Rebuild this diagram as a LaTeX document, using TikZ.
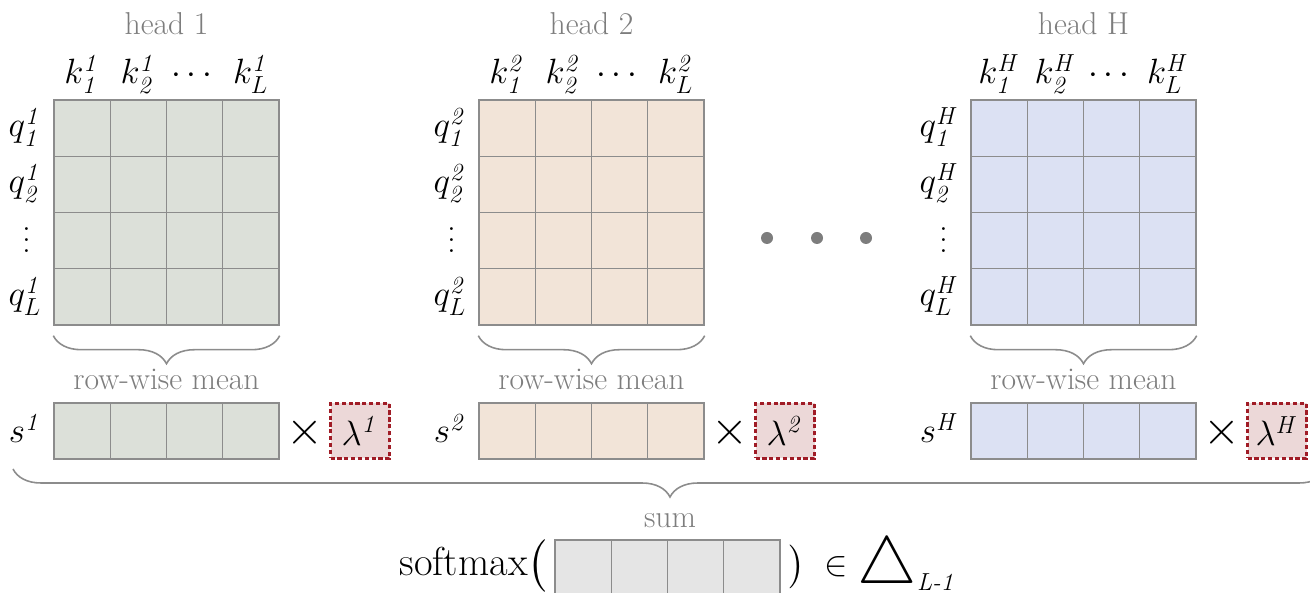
\RequirePackage{fix-cm}
\documentclass[tikz,border=0pt]{standalone}
\usepackage{amsmath}
\usepackage{graphicx}
\usepackage{tikz}
\usetikzlibrary{positioning}
\usetikzlibrary{calc}
\usetikzlibrary{decorations.pathreplacing}
\definecolor{hgreen}{RGB}{220,224,217}
\definecolor{hbeige}{RGB}{242,228,216}
\definecolor{hblue}{RGB}{220,225,243}
\definecolor{lpink}{RGB}{236,216,216}
\definecolor{lred}{RGB}{160,28,38}
\definecolor{sgray}{RGB}{229,229,229}
\definecolor{lgray}{RGB}{125,125,125}
\newcommand{\vdts}{\vbox{\baselineskip 6.5pt \lineskiplimit 0pt \hbox{.}\hbox{.}\hbox{.}}}
\newcommand{\simplex}{\mathord{\raisebox{-4.5pt}[\height][\depth]{\fontsize{38}{38}\selectfont$\bigtriangleup$}}}
\tikzset{
cl/.style={
  rectangle,
  inner sep=0pt,
  minimum size=11.25mm,
  draw=black!45,
  line width=0.8pt
  },
lam/.style={
  rectangle,
  inner sep=0pt,
  minimum width=11.8mm,
  minimum height=11mm,
  draw=lred,
  dash pattern=on 2.4pt off 1.5pt,
  line width=1.5pt,
  fill=lpink,
  font=\fontsize{20}{24}\selectfont
  },
dot/.style={
  circle,
  inner sep=0pt,
  minimum size=2.4mm,
  fill=lgray
  },
mt/.style={font=\fontsize{20}{24}\selectfont, inner sep=0pt},
gt/.style={font=\fontsize{18}{22}\selectfont, text=lgray, inner sep=0pt},
br/.style={decorate, decoration={brace, mirror, amplitude=5.6mm}, draw=black!45, line width=0.9pt}
}

\begin{document}
\begin{tikzpicture}[x=0.2mm,y=-0.2mm]
\useasboundingbox (0,0) rectangle (1310,593);
\clip (0,0) rectangle (1310,593);
\foreach \h/\xo/\col in {1/54/hgreen,2/479/hbeige,H/971/hblue}{
  % score matrix of one head
  \foreach \i in {1,...,4}
    \foreach \j in {1,...,4}
      \node[cl,fill=\col] (m\h-\i-\j) at ({\xo+56.25*\j-28.125},{100+56.25*\i-28.125}) {};
  \node[gt,anchor=base] (head\h) at ({\xo+112.5},35) {head \h};
  \node[mt,anchor=base] (k\h-1) at ({\xo+28.125},84) {$k^{\mathit{\h}}_{\mathit{1}}$};
  \node[mt,anchor=base] (k\h-2) at ({\xo+84.375},84) {$k^{\mathit{\h}}_{\mathit{2}}$};
  \node[mt,anchor=base] (k\h-3) at ({\xo+140.625},84) {$\cdots$};
  \node[mt,anchor=base] (k\h-4) at ({\xo+196.875},84) {$k^{\mathit{\h}}_{L}$};
  \node[mt,anchor=base east] (q\h-1) at ({\xo-12},137) {$q^{\mathit{\h}}_{\mathit{1}}$};
  \node[mt,anchor=base east] (q\h-2) at ({\xo-12},193) {$q^{\mathit{\h}}_{\mathit{2}}$};
  \node[mt] (q\h-3) at ({\xo-27},240) {\vdts};
  \node[mt,anchor=base east] (q\h-4) at ({\xo-12},306) {$q^{\mathit{\h}}_{L}$};
  % mean over rows
  \draw[br] ([yshift=-2mm]m\h-4-1.south west) -- ([yshift=-2mm]m\h-4-4.south east);
  \node[gt,anchor=base] (rw\h) at ({\xo+112.5},390) {row-wise mean};
  \foreach \j in {1,...,4}
    \node[cl,fill=\col] (s\h-\j) at ({\xo+56.25*\j-28.125},431) {};
  \node[mt,anchor=base east] (sl\h) at ({\xo-12},443) {$s^{\mathit{\h}}$};
  \node[mt,font=\fontsize{27}{30}\selectfont] (x\h) at ({\xo+251},433) {$\times$};
  \node[lam] (lam\h) at ({\xo+306},431) {$\lambda^{\mathit{\h}}$};
}
\node[dot] (d1) at (767,238) {};
\node[dot] (d2) at (817,238) {};
\node[dot] (d3) at (866,238) {};
% sum over heads
\coordinate (bl) at (13,469);
\coordinate (brr) at (1327,469);
\draw[br] (bl) -- (brr);
\node[gt,anchor=base] (sum) at (670,528) {sum};
\foreach \j in {1,...,4}
  \node[cl,fill=sgray] (o\j) at ({555+56.25*\j-28.125},568) {};
\node[anchor=base east,inner sep=0pt,font=\fontsize{23}{27}\selectfont] (smx) at (548,576) {softmax$\bigl($};
\node[mt,anchor=base west] (rhs) at (788,576) {$\bigr)\;\in\simplex_{\textit{L-1}}$};
\end{tikzpicture}
\end{document}
